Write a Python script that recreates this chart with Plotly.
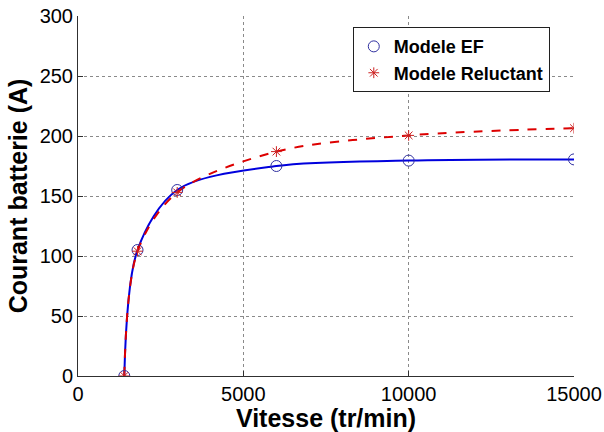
import plotly.graph_objects as go

# vitesse (tr/min) et courant batterie (A)
vitesse = [1400, 1800, 3000, 6000, 10000, 15000]
courant_ef = [0, 105, 155, 175, 179.5, 180.5]
courant_reluctant = [0, 104, 153, 187, 200.5, 206.5]

x_ticks = [0, 5000, 10000, 15000]
y_ticks = [0, 50, 100, 150, 200, 250, 300]

fig = go.Figure()

fig.add_trace(go.Scatter(
    x=vitesse, y=courant_ef, mode="lines", line=dict(color="#0000dd", width=2, shape="spline", smoothing=0.9),
    showlegend=False, hoverinfo="skip"))
fig.add_trace(go.Scatter(
    x=vitesse, y=courant_reluctant, mode="lines",
    line=dict(color="#dd0000", width=2, dash="dash", shape="spline", smoothing=0.9),
    showlegend=False, hoverinfo="skip"))

fig.add_trace(go.Scatter(
    x=vitesse, y=courant_ef, mode="markers", name="<b>Modele EF</b>",
    marker=dict(symbol="circle-open", size=11, color="#3030a0", line=dict(width=1))))
fig.add_trace(go.Scatter(
    x=vitesse, y=courant_reluctant, mode="markers", name="<b>Modele Reluctant</b>",
    marker=dict(symbol="asterisk-open", size=9, color="#cc2020", line=dict(width=1, color="#cc2020"))))

axis_common = dict(
    showgrid=True, gridcolor="#8a8a8a", griddash="dot", gridwidth=1,
    showline=True, linecolor="#303030", linewidth=1,
    ticks="inside", ticklen=5, tickcolor="#303030",
    tickfont=dict(family="Liberation Sans, Arial", size=20, color="black"),
    zeroline=False, automargin=False,
)

fig.update_xaxes(range=[0, 15000], tickvals=x_ticks, ticktext=[str(v) for v in x_ticks],
                 title=dict(text="<b>Vitesse (tr/min)</b>", standoff=0,
                            font=dict(family="Liberation Sans, Arial", size=25, color="black")),
                 **axis_common)
fig.update_yaxes(range=[0, 300], tickvals=y_ticks,
                 title=dict(text="<b>Courant batterie (A)</b>", standoff=4,
                            font=dict(family="Liberation Sans, Arial", size=25, color="black")),
                 **axis_common)

fig.update_layout(
    width=604, height=432,
    margin=dict(l=78, r=30, t=16, b=56),
    plot_bgcolor="white", paper_bgcolor="white",
    legend=dict(x=0.554, y=0.969, xanchor="left", yanchor="top",
                bgcolor="white", bordercolor="#202020", borderwidth=1,
                font=dict(family="Liberation Sans, Arial", size=18, color="black"),
                tracegroupgap=0, itemwidth=30),
)

# pas de marge autour de la figure dans la page, pas de barre d'outils
fig.write_html("out.html", config={"displayModeBar": False},
               post_script="document.body.style.margin='0';")
